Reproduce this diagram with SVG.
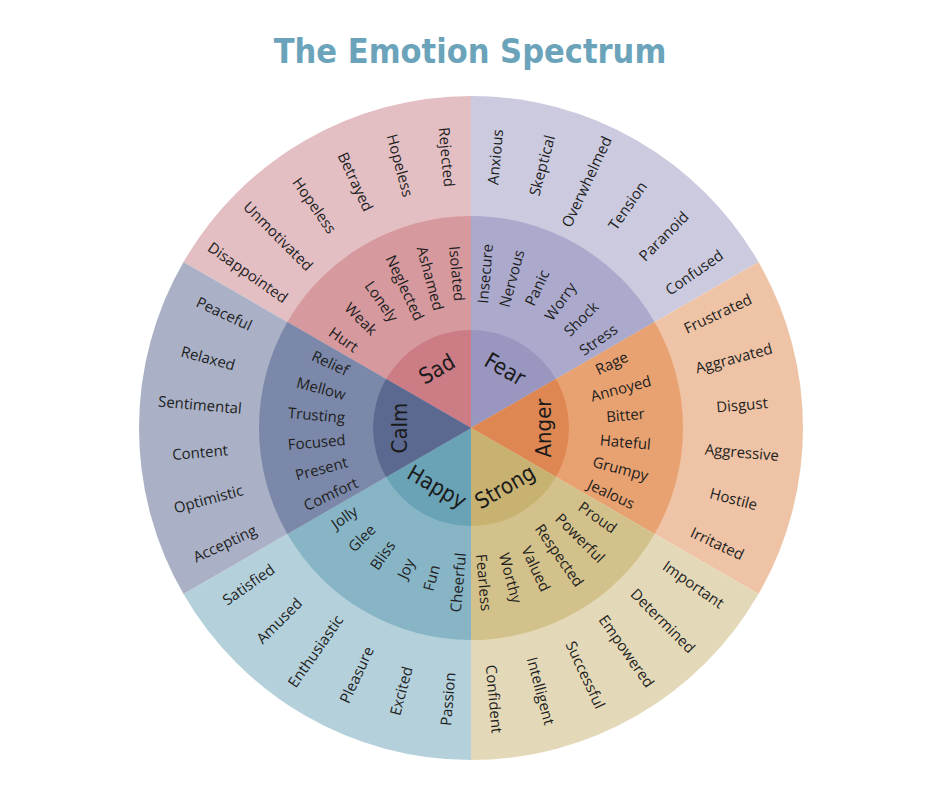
<svg xmlns="http://www.w3.org/2000/svg" width="940" height="788" viewBox="0 0 940 788">
<style>
.w{font-family:"Open Sans","DejaVu Sans",sans-serif;font-size:15px;fill:#1e1e1e;text-anchor:middle;dominant-baseline:central}
.c{font-family:"DejaVu Sans Condensed","Liberation Sans Narrow",sans-serif;font-stretch:condensed;font-size:22px;fill:#1a1a1a;text-anchor:middle;dominant-baseline:central}
.t{font-family:"DejaVu Sans Condensed","Liberation Sans Narrow",sans-serif;font-stretch:condensed;font-weight:bold;font-size:34px;fill:#6aa3ba;text-anchor:middle}
</style>
<rect width="940" height="788" fill="#fff"/>
<text class="t" x="470" y="63">The Emotion Spectrum</text>
<g id="sad">
<path d="M471,428 L183.5,262 A332,332 0 0 1 471,96 Z" fill="#e3bfc4"/>
<path d="M471,428 L287.4,322 A212,212 0 0 1 471,216 Z" fill="#d6999e"/>
<path d="M471,428 L386.1,379 A98,98 0 0 1 471,330 Z" fill="#cc7c84"/>
<g class="w">
<text transform="rotate(35,471,428)" x="199" y="428">Disappointed</text>
<text transform="rotate(45,471,428)" x="199" y="428">Unmotivated</text>
<text transform="rotate(55,471,428)" x="199" y="428">Hopeless</text>
<text transform="rotate(65,471,428)" x="199" y="428">Betrayed</text>
<text transform="rotate(75,471,428)" x="199" y="428">Hopeless</text>
<text transform="rotate(85,471,428)" x="199" y="428">Rejected</text>
<text transform="rotate(35,471,428)" x="316" y="428">Hurt</text>
<text transform="rotate(45,471,428)" x="316" y="428">Weak</text>
<text transform="rotate(55,471,428)" x="316" y="428">Lonely</text>
<text transform="rotate(65,471,428)" x="316" y="428">Neglected</text>
<text transform="rotate(75,471,428)" x="316" y="428">Ashamed</text>
<text transform="rotate(85,471,428)" x="316" y="428">Isolated</text>
</g>
<text class="c" transform="translate(471,428) rotate(-120) translate(68,0) rotate(90)">Sad</text>
</g>
<g id="fear">
<path d="M471,428 L471,96 A332,332 0 0 1 758.5,262 Z" fill="#cbcadf"/>
<path d="M471,428 L471,216 A212,212 0 0 1 654.6,322 Z" fill="#aba9cc"/>
<path d="M471,428 L471,330 A98,98 0 0 1 555.9,379 Z" fill="#9996c0"/>
<g class="w">
<text transform="rotate(-85,471,428)" x="743" y="428">Anxious</text>
<text transform="rotate(-75,471,428)" x="743" y="428">Skeptical</text>
<text transform="rotate(-65,471,428)" x="743" y="428">Overwhelmed</text>
<text transform="rotate(-55,471,428)" x="743" y="428">Tension</text>
<text transform="rotate(-45,471,428)" x="743" y="428">Paranoid</text>
<text transform="rotate(-35,471,428)" x="743" y="428">Confused</text>
<text transform="rotate(-85,471,428)" x="626" y="428">Insecure</text>
<text transform="rotate(-75,471,428)" x="626" y="428">Nervous</text>
<text transform="rotate(-65,471,428)" x="626" y="428">Panic</text>
<text transform="rotate(-55,471,428)" x="626" y="428">Worry</text>
<text transform="rotate(-45,471,428)" x="626" y="428">Shock</text>
<text transform="rotate(-35,471,428)" x="626" y="428">Stress</text>
</g>
<text class="c" transform="translate(471,428) rotate(-60) translate(68,0) rotate(90)">Fear</text>
</g>
<g id="anger">
<path d="M471,428 L758.5,262 A332,332 0 0 1 758.5,594 Z" fill="#efc4a6"/>
<path d="M471,428 L654.6,322 A212,212 0 0 1 654.6,534 Z" fill="#e8a271"/>
<path d="M471,428 L555.9,379 A98,98 0 0 1 555.9,477 Z" fill="#df8753"/>
<g class="w">
<text transform="rotate(-25,471,428)" x="743" y="428">Frustrated</text>
<text transform="rotate(-15,471,428)" x="743" y="428">Aggravated</text>
<text transform="rotate(-5,471,428)" x="743" y="428">Disgust</text>
<text transform="rotate(5,471,428)" x="743" y="428">Aggressive</text>
<text transform="rotate(15,471,428)" x="743" y="428">Hostile</text>
<text transform="rotate(25,471,428)" x="743" y="428">Irritated</text>
<text transform="rotate(-25,471,428)" x="626" y="428">Rage</text>
<text transform="rotate(-15,471,428)" x="626" y="428">Annoyed</text>
<text transform="rotate(-5,471,428)" x="626" y="428">Bitter</text>
<text transform="rotate(5,471,428)" x="626" y="428">Hateful</text>
<text transform="rotate(15,471,428)" x="626" y="428">Grumpy</text>
<text transform="rotate(25,471,428)" x="626" y="428">Jealous</text>
</g>
<text class="c" transform="translate(471,428) translate(72,0) rotate(-90)">Anger</text>
</g>
<g id="strong">
<path d="M471,428 L758.5,594 A332,332 0 0 1 471,760 Z" fill="#e3d9b8"/>
<path d="M471,428 L654.6,534 A212,212 0 0 1 471,640 Z" fill="#d3c18b"/>
<path d="M471,428 L555.9,477 A98,98 0 0 1 471,526 Z" fill="#c8b272"/>
<g class="w">
<text transform="rotate(35,471,428)" x="743" y="428">Important</text>
<text transform="rotate(45,471,428)" x="743" y="428">Determined</text>
<text transform="rotate(55,471,428)" x="743" y="428">Empowered</text>
<text transform="rotate(65,471,428)" x="743" y="428">Successful</text>
<text transform="rotate(75,471,428)" x="743" y="428">Intelligent</text>
<text transform="rotate(85,471,428)" x="743" y="428">Confident</text>
<text transform="rotate(35,471,428)" x="626" y="428">Proud</text>
<text transform="rotate(45,471,428)" x="626" y="428">Powerful</text>
<text transform="rotate(55,471,428)" x="626" y="428">Respected</text>
<text transform="rotate(65,471,428)" x="626" y="428">Valued</text>
<text transform="rotate(75,471,428)" x="626" y="428">Worthy</text>
<text transform="rotate(85,471,428)" x="626" y="428">Fearless</text>
</g>
<text class="c" transform="translate(471,428) rotate(60) translate(68,0) rotate(-90)">Strong</text>
</g>
<g id="happy">
<path d="M471,428 L471,760 A332,332 0 0 1 183.5,594 Z" fill="#b4d0da"/>
<path d="M471,428 L471,640 A212,212 0 0 1 287.4,534 Z" fill="#87b5c6"/>
<path d="M471,428 L471,526 A98,98 0 0 1 386.1,477 Z" fill="#6aa3b6"/>
<g class="w">
<text transform="rotate(-85,471,428)" x="199" y="428">Passion</text>
<text transform="rotate(-75,471,428)" x="199" y="428">Excited</text>
<text transform="rotate(-65,471,428)" x="199" y="428">Pleasure</text>
<text transform="rotate(-55,471,428)" x="199" y="428">Enthusiastic</text>
<text transform="rotate(-45,471,428)" x="199" y="428">Amused</text>
<text transform="rotate(-35,471,428)" x="199" y="428">Satisfied</text>
<text transform="rotate(-85,471,428)" x="316" y="428">Cheerful</text>
<text transform="rotate(-75,471,428)" x="316" y="428">Fun</text>
<text transform="rotate(-65,471,428)" x="316" y="428">Joy</text>
<text transform="rotate(-55,471,428)" x="316" y="428">Bliss</text>
<text transform="rotate(-45,471,428)" x="316" y="428">Glee</text>
<text transform="rotate(-35,471,428)" x="316" y="428">Jolly</text>
</g>
<text class="c" transform="translate(471,428) rotate(120) translate(68,0) rotate(-90)">Happy</text>
</g>
<g id="calm">
<path d="M471,428 L183.5,594 A332,332 0 0 1 183.5,262 Z" fill="#aab1c6"/>
<path d="M471,428 L287.4,534 A212,212 0 0 1 287.4,322 Z" fill="#7b88a9"/>
<path d="M471,428 L386.1,477 A98,98 0 0 1 386.1,379 Z" fill="#5b6991"/>
<g class="w">
<text transform="rotate(-25,471,428)" x="199" y="428">Accepting</text>
<text transform="rotate(-15,471,428)" x="199" y="428">Optimistic</text>
<text transform="rotate(-5,471,428)" x="199" y="428">Content</text>
<text transform="rotate(5,471,428)" x="199" y="428">Sentimental</text>
<text transform="rotate(15,471,428)" x="199" y="428">Relaxed</text>
<text transform="rotate(25,471,428)" x="199" y="428">Peaceful</text>
<text transform="rotate(-25,471,428)" x="316" y="428">Comfort</text>
<text transform="rotate(-15,471,428)" x="316" y="428">Present</text>
<text transform="rotate(-5,471,428)" x="316" y="428">Focused</text>
<text transform="rotate(5,471,428)" x="316" y="428">Trusting</text>
<text transform="rotate(15,471,428)" x="316" y="428">Mellow</text>
<text transform="rotate(25,471,428)" x="316" y="428">Relief</text>
</g>
<text class="c" transform="translate(471,428) translate(-72,0) rotate(-90)">Calm</text>
</g>
<g id="connectors"></g>
</svg>
